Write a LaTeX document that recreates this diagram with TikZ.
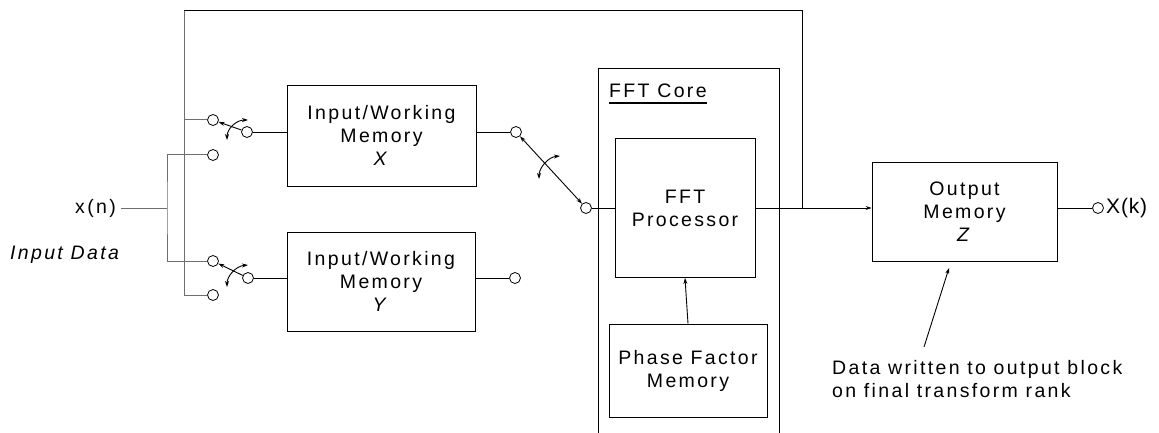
\documentclass[tikz,border=0pt]{standalone}
\usepackage{fontspec}
\setmainfont{Liberation Sans}[LetterSpace=12]
\usetikzlibrary{arrows.meta}
\newcommand\fs{\fontsize{19.5}{23}\selectfont}
\begin{document}
\begin{tikzpicture}[x=1pt,y=-1pt,
  box/.style={draw, line width=0.9pt, inner sep=0pt, align=center, font=\fs},
  contact/.style={circle, draw, fill=white, inner sep=0pt, minimum size=11pt, line width=0.8pt},
  wire/.style={line width=0.9pt},
  gwire/.style={line width=1pt, draw={rgb,255:red,110;green,110;blue,110}},
  tip/.style={-{Stealth[length=6pt,width=4pt]}},
  dtip/.style={{Stealth[length=6pt,width=4pt]}-{Stealth[length=6pt,width=4pt]}},
  lbl/.style={inner sep=0pt, font=\fs}]
\useasboundingbox (0,0) rectangle (1159,433);
% boxes
\node[box, minimum width=189pt, minimum height=101pt] (X) at (381.5,135.5) {Input/Working\\Memory\\\textit{X}};
\node[box, minimum width=188pt, minimum height=99pt] (Y) at (381,281.5) {Input/Working\\Memory\\\textit{Y}};
\node[box, minimum width=140pt, minimum height=139pt] (proc) at (685,208) {FFT\\Processor};
\node[box, minimum width=158pt, minimum height=93pt] (phase) at (688,370.5) {Phase Factor\\Memory};
\node[box, minimum width=185pt, minimum height=99pt] (out) at (964.5,211.5) {Output\\Memory\\\textit{Z}};
% FFT core enclosure
\coordinate (cbl) at (598,433);
\coordinate (cbr) at (779,433);
\draw[wire] (cbl) -- (598,68) -- (779,68) -- (cbr);
\node[lbl, anchor=base west] (core) at (609,98) {FFT Core};
\draw[line width=1.8pt] ([yshift=-5pt]core.base west) -- ([yshift=-5pt]core.base east);
% contacts
\node[contact] (ua) at (213,120) {};
\node[contact] (ub) at (213,155) {};
\node[contact] (up) at (247,132) {};
\node[contact] (la) at (213,261) {};
\node[contact] (lb) at (213,295) {};
\node[contact] (lp) at (248,278) {};
\node[contact] (c2) at (516,132) {};
\node[contact] (yc) at (515,278) {};
\node[contact] (c3) at (586,208) {};
\node[contact] (oc) at (1098,208) {};
% labels
\node[lbl, anchor=east] (xn) at (116,208) {x(n)};
\node[lbl, anchor=base west] (ind) at (10,259) {\itshape Input Data};
\node[lbl, anchor=west, font=\fontsize{21}{25}\selectfont\addfontfeatures{LetterSpace=4}] (xk) at (1106,208) {X(k)};
\node[lbl, anchor=west, align=left] (note) at (832,379) {Data written to output block\\on final transform rank};
% left wiring
\coordinate (xj) at (167,208);
\coordinate (tl) at (184,10);
\coordinate (fb) at (802,208);
\draw[gwire] ([xshift=5pt]xn.east) -- (xj);
\draw[gwire] (ub) -| (xj) |- (la);
\draw[gwire] (tl) |- (ua);
\draw[gwire] (tl) |- (lb);
\draw[wire] (fb) |- (tl);
% switches
\draw[wire, tip] (up) -- (ua);
\draw[wire, tip] (lp) -- (la);
\draw[wire, dtip] (c2) -- (c3);
\draw[wire, dtip] (227,140) .. controls (227,129) and (236,120) .. (248,120);
\draw[wire, dtip] (227,287) .. controls (227,276) and (236,266) .. (248,265);
\draw[wire, dtip] (539,179) .. controls (539,168) and (548,157) .. (560,156);
% connections
\draw[wire] (up) -- (up -| X.west);
\draw[wire] (lp) -- (lp -| Y.west);
\draw[wire] (X.east |- c2) -- (c2);
\draw[wire] (Y.east |- yc) -- (yc);
\draw[wire] (c3) -- (c3 -| proc.west);
\draw[wire, tip] (proc.east) -- (proc.east -| out.west);
\draw[wire, tip] (phase.north) -- (proc.south);
\draw[wire] (out.east |- oc) -- (oc);
\coordinate (ns) at (924,347);
\coordinate (ne) at (949,268);
\draw[wire, tip] (ns) -- (ne);
\end{tikzpicture}
\end{document}
